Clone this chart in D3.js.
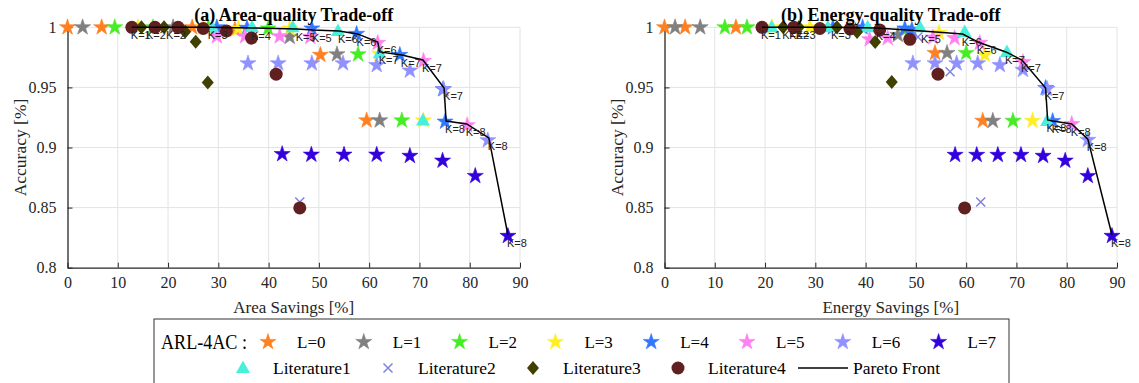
<!DOCTYPE html>
<html><head><meta charset="utf-8">
<script src="https://cdn.jsdelivr.net/npm/d3@7"></script>
<style>body{margin:0;background:#fff} svg{display:block}</style>
</head><body><svg id="c" width="1139" height="383"></svg>
<script>
// ---------------- DATA ----------------
const xTicks = [0,10,20,30,40,50,60,70,80,90];
const yTicks = [0.8,0.85,0.9,0.95,1];
const yTickLabels = ["0.8","0.85","0.9","0.95","1"];
const seriesNames = ["L=0","L=1","L=2","L=3","L=4","L=5","L=6","L=7","Literature1","Literature2","Literature3","Literature4"];

// Area savings [%], accuracy
const areaL0 = [[0,1.0],[6.8,1.0],[24.8,1.0],[33.3,0.998],[50.3,0.977],[59.5,0.9225]];
const areaL1 = [[3.0,1.0],[21,1.0],[44.2,0.992],[53.6,0.9775],[62.1,0.9225]];
const areaL2 = [[9.4,1.0],[17,1.0],[28,1.0],[39.9,0.999],[57.8,0.9775],[66.5,0.9225]];
const areaL3 = [[14,1.0],[27,1.0],[34,0.999],[44.2,0.999],[62,0.978],[70.8,0.9225]];
const areaL4 = [[29.7,1.0],[35.7,0.9995],[48.6,0.999],[57.5,0.9945],[66.1,0.977],[74.7,0.9485],[75.1,0.9215]];
const areaL5 = [[29.7,0.9925],[35.3,0.9925],[42.2,0.9925],[48.3,0.992],[61.7,0.987],[70.8,0.972],[79.5,0.9185]];
const areaL6 = [[35.9,0.970],[41.9,0.970],[48.6,0.970],[54.8,0.970],[61.5,0.9685],[68.1,0.964],[74.8,0.9485],[83.6,0.906]];
const areaL7 = [[42.7,0.8945],[48.5,0.894],[55.0,0.894],[61.5,0.894],[68.1,0.893],[74.6,0.889],[81.1,0.8763],[87.6,0.8264]];
const areaLit1 = [[28.7,1.0],[36.7,1.0],[44.8,1.0],[53.8,0.997],[62.1,0.9785],[70.7,0.9225]];
const areaLit2 = [[46.2,0.8547]];
const areaLit3 = [[14.7,1.0],[19.2,1.0],[23.4,0.9963],[25.5,0.988],[27.9,0.954]];
const areaLit4 = [[12.8,1.0],[17.4,1.0],[22,1.0],[27,0.999],[31.6,0.997],[36.6,0.991],[41.5,0.961],[46.2,0.8497]];
const areaFront = [[12.8,1.0],[15.8,1.0],[19.8,1.0],[28.1,1.0],[36.7,0.9994],[45.6,0.9986],[48.8,0.9978],[54,0.997],[57.7,0.9945],[61.7,0.9878],[62.1,0.9795],[66.5,0.977],[70.7,0.9728],[74.9,0.9495],[75.3,0.922],[79.4,0.9196],[83.8,0.908],[87.6,0.8272]];
const areaFrontK = [1,2,2,3,4,5,5,6,6,6,7,7,7,7,8,8,8,8];

// Energy savings [%], accuracy
const energyL0 = [[0,1.0],[4.1,1.0],[14.2,1.0],[53.8,0.9786],[63.3,0.9222]];
const energyL1 = [[2.1,1.0],[7.1,1.0],[46.4,0.9936],[56.2,0.9786],[65.3,0.9222]];
const energyL2 = [[12,1.0],[16.4,1.0],[48.5,0.995],[60,0.9786],[69.3,0.9222]];
const energyL3 = [[21.4,1.0],[28.9,1.0],[54.6,0.9953],[63.7,0.977],[73.2,0.9222]];
const energyL4 = [[33.5,1.0],[39.4,1.0],[47.8,0.999],[49.2,0.998],[75.8,0.9495],[77.2,0.922]];
const energyL5 = [[40.8,0.990],[44.4,0.991],[53.4,0.9915],[57.7,0.991],[62.7,0.987],[71.3,0.971],[81,0.9195]];
const energyL6 = [[49.4,0.970],[53.8,0.970],[58.1,0.970],[62.3,0.970],[66.7,0.9686],[71.3,0.9645],[76.1,0.9487],[84.2,0.9063]];
const energyL7 = [[57.8,0.8938],[62.1,0.8938],[66.3,0.8938],[70.9,0.8938],[75.3,0.893],[79.7,0.889],[84.2,0.8763],[89,0.8264]];
const energyLit1 = [[21.3,1.0],[32.5,1.0],[40.4,1.0],[50.8,1.0],[59.7,0.996],[68.1,0.9795],[76.1,0.922]];
const energyLit2 = [[50.4,0.992],[56.8,0.963],[62.9,0.8547]];
const energyLit3 = [[23.6,1.0],[26.7,1.0],[34.3,1.0],[38.3,0.996],[41.9,0.9878],[45.2,0.9545]];
const energyLit4 = [[19.4,1.0],[25.7,1.0],[30.9,0.999],[36.9,0.9986],[42.8,0.9978],[48.8,0.990],[54.4,0.961],[59.7,0.8497]];
const energyFront = [[19.4,1.0],[23.6,1.0],[25,1.0],[26.3,1.0],[33.3,1.0],[42.2,0.9994],[51.2,0.9969],[59.3,0.9944],[62.3,0.9878],[67.9,0.9795],[71.1,0.9728],[75.8,0.9495],[76.2,0.9229],[77.2,0.922],[81,0.9196],[84.2,0.907],[89,0.8272]];
const energyFrontK = [1,2,2,3,3,4,5,6,6,7,7,7,8,8,8,8,8];

// ---------------- STYLE ----------------
const styles = {
  "L=0":{t:"star",c:"#ff8020"}, "L=1":{t:"star",c:"#808080"}, "L=2":{t:"star",c:"#44ee22"},
  "L=3":{t:"star",c:"#ffee22"}, "L=4":{t:"star",c:"#3377ff"}, "L=5":{t:"star",c:"#ff80f0"},
  "L=6":{t:"star",c:"#9090ff"}, "L=7":{t:"star",c:"#3300dd"},
  "Literature1":{t:"tri",c:"#48f0dc"}, "Literature2":{t:"x",c:"#8080e0"},
  "Literature3":{t:"diamond",c:"#404000"}, "Literature4":{t:"circle",c:"#602020"}
};
const serif = "'Liberation Serif','Times New Roman',serif";
const sans = "'Liberation Sans',Arial,sans-serif";
const axisColor = "#262626";

const svg = d3.select("#c");
const starPath = d3.symbol(d3.symbolStar, 80)();
const circlePath = d3.symbol(d3.symbolCircle, 133)();

function drawMarker(g, type, color, x, y) {
  if (type === "star") {
    g.append("path").attr("d", starPath).attr("transform", `translate(${x},${y})`)
      .attr("fill", color).attr("stroke", color).attr("stroke-width", 0.6);
  } else if (type === "circle") {
    g.append("path").attr("d", circlePath).attr("transform", `translate(${x},${y})`).attr("fill", color);
  } else if (type === "diamond") {
    g.append("path").attr("d", "M0,-7L6,0L0,7L-6,0Z").attr("transform", `translate(${x},${y})`).attr("fill", color);
  } else if (type === "tri") {
    g.append("path").attr("d", "M0,-7.5L7,5L-7,5Z").attr("transform", `translate(${x},${y})`).attr("fill", color);
  } else if (type === "x") {
    g.append("path").attr("d", "M-4.5,-4.5L4.5,4.5M-4.5,4.5L4.5,-4.5").attr("transform", `translate(${x},${y})`)
      .attr("stroke", color).attr("stroke-width", 1.5).attr("fill", "none");
  }
}

const panels = [
  {x0:67.5, x1:520, title:"(a) Area-quality Trade-off", xlabel:"Area Savings [%]",
   series:[areaL0,areaL1,areaL2,areaL3,areaL4,areaL5,areaL6,areaL7,areaLit1,areaLit2,areaLit3,areaLit4],
   front:areaFront, frontK:areaFrontK},
  {x0:664.5, x1:1117, title:"(b) Energy-quality Trade-off", xlabel:"Energy Savings [%]",
   series:[energyL0,energyL1,energyL2,energyL3,energyL4,energyL5,energyL6,energyL7,energyLit1,energyLit2,energyLit3,energyLit4],
   front:energyFront, frontK:energyFrontK}
];
const yTop = 27.3, yBot = 267.7;

panels.forEach(p => {
  const x = d3.scaleLinear().domain([0,90]).range([p.x0, p.x1]);
  const y = d3.scaleLinear().domain([0.8,1]).range([yBot, yTop]);
  const g = svg.append("g");
  g.selectAll(".gx").data(xTicks.slice(1)).join("line")
    .attr("x1", d=>x(d)).attr("x2", d=>x(d)).attr("y1", yTop).attr("y2", yBot)
    .attr("stroke", "#e3e3e3").attr("stroke-width", 1);
  g.selectAll(".gy").data(yTicks.slice(1)).join("line")
    .attr("x1", p.x0).attr("x2", p.x1).attr("y1", d=>y(d)).attr("y2", d=>y(d))
    .attr("stroke", "#e3e3e3").attr("stroke-width", 1);
  const ax = d3.axisBottom(x).tickValues(xTicks).tickSizeInner(-5).tickSizeOuter(0).tickPadding(9);
  const ay = d3.axisLeft(y).tickValues(yTicks).tickFormat((d,i)=>yTickLabels[i]).tickSizeInner(-5).tickSizeOuter(0).tickPadding(11);
  const gx = g.append("g").attr("transform", `translate(0,${yBot})`).call(ax);
  const gy = g.append("g").attr("transform", `translate(${p.x0},0)`).call(ay);
  [gx, gy].forEach(a => {
    a.select(".domain").attr("stroke", axisColor).attr("stroke-width", 1.3);
    a.selectAll(".tick line").attr("stroke", axisColor).attr("stroke-width", 1);
    a.selectAll("text").attr("font-family", serif).attr("font-size", 16).attr("fill", axisColor);
  });
  gx.selectAll("text").attr("dy", "0.71em");
  p.series.forEach((s, i) => {
    const st = styles[seriesNames[i]];
    const sg = g.append("g");
    s.forEach(d => drawMarker(sg, st.t, st.c, x(d[0]), y(d[1])));
  });
  g.append("path").datum(p.front)
    .attr("d", d3.line().x(d=>x(d[0])).y(d=>y(d[1])))
    .attr("fill", "none").attr("stroke", "#000").attr("stroke-width", 1.5);
  g.selectAll(".kl").data(p.front).join("text")
    .attr("x", d=>x(d[0]) - 1).attr("y", d=>y(d[1]) + 12)
    .attr("font-family", sans).attr("font-size", 11).attr("fill", "#222")
    .text((d,i)=>"K=" + p.frontK[i]);
  const cx = (p.x0 + p.x1) / 2;
  svg.append("text").attr("x", cx).attr("y", 21).attr("text-anchor", "middle")
    .attr("font-family", serif).attr("font-weight", "bold").attr("font-size", 18).attr("fill", "#000")
    .text(p.title);
  svg.append("text").attr("x", cx).attr("y", 313).attr("text-anchor", "middle")
    .attr("font-family", serif).attr("font-size", 17).attr("fill", axisColor).text(p.xlabel);
  svg.append("text").attr("transform", `translate(${p.x0 - 42},${(yTop+yBot)/2}) rotate(-90)`)
    .attr("text-anchor", "middle").attr("font-family", serif).attr("font-size", 17.5).attr("fill", axisColor)
    .text("Accuracy [%]");
});

// ---------------- LEGEND ----------------
const lg = svg.append("g");
lg.append("rect").attr("x", 154).attr("y", 319).attr("width", 855).attr("height", 80)
  .attr("fill", "#fff").attr("stroke", "#333").attr("stroke-width", 1);
lg.append("text").attr("x", 161).attr("y", 349).attr("font-family", serif).attr("font-size", 22)
  .attr("textLength", 86).attr("lengthAdjust", "spacingAndGlyphs")
  .attr("fill", "#000").text("ARL-4AC :");
seriesNames.slice(0, 8).forEach((n, i) => {
  const mx = 268 + i * 95.8;
  drawMarker(lg, styles[n].t, styles[n].c, mx, 342);
  lg.append("text").attr("x", mx + 29).attr("y", 348).attr("font-family", serif).attr("font-size", 17)
    .attr("fill", "#000").text(n);
});
const row2 = seriesNames.slice(8).concat(["Pareto Front"]);
row2.forEach((n, i) => {
  const mx = 243 + i * 145;
  if (n === "Pareto Front") {
    lg.append("line").attr("x1", mx - 25).attr("x2", mx + 25).attr("y1", 368).attr("y2", 368)
      .attr("stroke", "#000").attr("stroke-width", 1.5);
  } else {
    drawMarker(lg, styles[n].t, styles[n].c, mx, 368);
  }
  lg.append("text").attr("x", mx + 30).attr("y", 374).attr("font-family", serif).attr("font-size", 17.5)
    .attr("fill", "#000").text(n);
});
</script></body></html>
